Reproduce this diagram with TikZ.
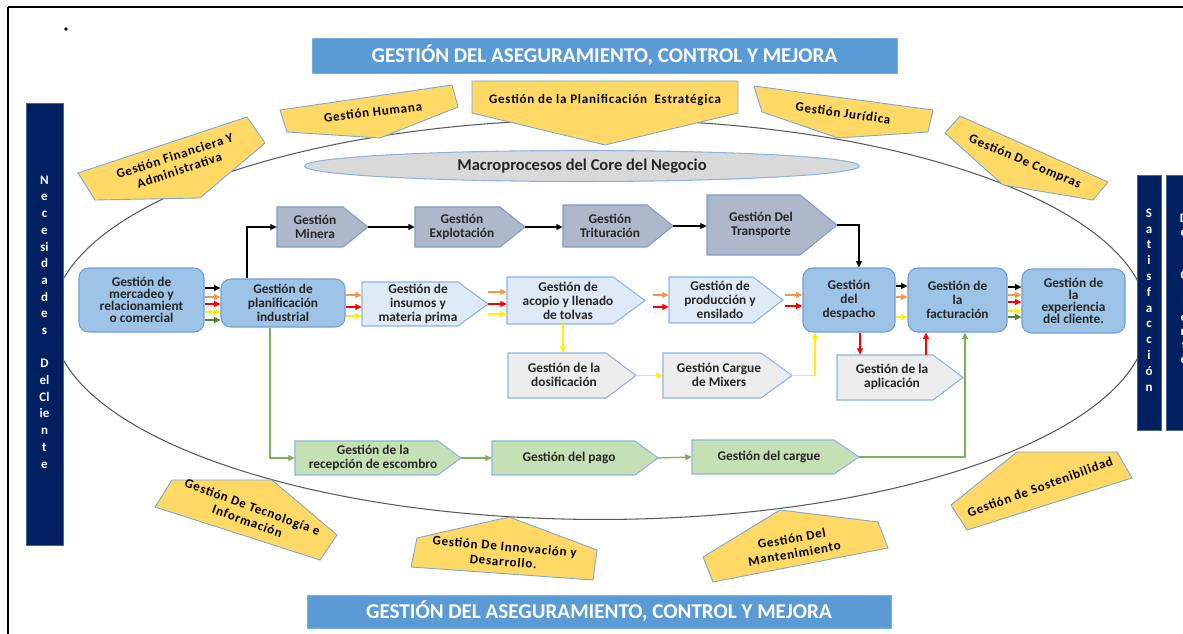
\documentclass[tikz,border=0pt]{standalone}
\usepackage{fontspec}
\setmainfont{Carlito}
\newfontfamily\goldfamily[LetterSpace=6]{Carlito}
\usetikzlibrary{arrows.meta,shapes.geometric,fit}

\definecolor{bannerblue}{HTML}{5B9BD5}
\definecolor{navy}{HTML}{002060}
\definecolor{boxblue}{HTML}{9DC3E6}
\definecolor{boxedge}{HTML}{6F9ED6}
\definecolor{slate}{HTML}{ADB9CA}
\definecolor{slateedge}{HTML}{7F9CC4}
\definecolor{pale}{HTML}{DEEBF7}
\definecolor{paleedge}{HTML}{8DB3E2}
\definecolor{mist}{HTML}{EDEDED}
\definecolor{sage}{HTML}{C5E0B4}
\definecolor{gold}{HTML}{FFD966}
\definecolor{goldedge}{HTML}{7AA7D6}
\definecolor{coregrey}{HTML}{D9D9D9}
\definecolor{ink}{HTML}{262626}
\definecolor{orng}{HTML}{F79646}
\definecolor{leaf}{HTML}{548235}
\definecolor{vine}{HTML}{7DAF5A}
\definecolor{orbitline}{HTML}{595959}

\newcommand\boxfnt{\fontsize{7.6}{8}\selectfont\bfseries}
\newcommand\tightfnt{\fontsize{7.6}{6.9}\selectfont\bfseries}
\newcommand\goldfnt{\goldfamily\fontsize{7.4}{8.6}\selectfont\bfseries}
\newcommand\bannerfnt{\fontsize{12}{14}\selectfont\bfseries}
\newcommand\corefnt{\fontsize{9.4}{11}\selectfont\bfseries}

% pentagon process box: style, name, left x, bend x, tip x, top y, bottom y, text centre, text
\newcommand\chev[9]{%
  \path[#1] (#3,#6) -- (#4,#6) -- (#5,{(#6+#7)/2}) -- (#4,#7) -- (#3,#7) -- cycle;
  \node[fit={(#3,#6)(#5,#7)}, inner sep=0pt] (#2) {};
  \node[boxtext] (#2-t) at (#8) {#9};
}

\begin{document}
\begin{tikzpicture}[x=0.02cm, y=-0.02cm,
  bannerbox/.style={fill=bannerblue, draw=bannerblue!80!white, line width=0.4pt},
  navybar/.style={fill=navy, draw=navy!70!white, line width=0.4pt},
  bartext/.style={text=white, font=\fontsize{7.4}{#1}\selectfont\bfseries, align=center, inner sep=0pt},
  rbox/.style={draw=boxedge, fill=boxblue, rounded corners=5.5pt, line width=0.6pt, inner sep=0pt, align=center, font=\boxfnt, text=ink},
  slatebox/.style={draw=slateedge, fill=slate, line width=0.6pt},
  palebox/.style={draw=paleedge, fill=pale, line width=0.6pt},
  mistbox/.style={draw=paleedge, fill=mist, line width=0.6pt},
  sagebox/.style={draw=paleedge, fill=sage, line width=0.6pt},
  goldshape/.style={draw=goldedge, fill=gold, line width=0.5pt},
  goldtext/.style={font=\goldfnt, text=black, align=center, inner sep=0pt},
  boxtext/.style={font=\boxfnt, text=ink, align=center, inner sep=0pt},
  arr/.style={line width=0.7pt, -{Triangle[length=3.6pt,width=3.4pt]}}
]
\useasboundingbox (0,0) rectangle (1183,634);

% page frame
\draw[line width=1.2pt] (8,7) -- (1183,7);
\draw[line width=1.2pt] (8,7) -- (8,634);
\node[circle, fill=black, inner sep=0.8pt] (dot) at (66,29) {};

% outer orbit of the business core
\node[draw=orbitline, line width=0.6pt, ellipse, minimum width=21.92cm, minimum height=8cm, inner sep=0pt] (orbit) at (600,319.5) {};

% quality banners
\path[bannerbox] (312,38) rectangle (897,73);
\node[text=white, font=\bannerfnt] (topban) at (604.5,55.5) {GESTIÓN DEL ASEGURAMIENTO, CONTROL Y MEJORA};
\path[bannerbox] (307,595) rectangle (891,628);
\node[text=white, font=\bannerfnt] (botban) at (599,611.5) {GESTIÓN DEL ASEGURAMIENTO, CONTROL Y MEJORA};

% support processes
\path[goldshape] (78,173) -- (247,117) -- (265,143) -- (200,198) -- (95,200) -- cycle;
\node[goldtext, rotate=18] (fin) at (177,163) {Gestión Financiera Y\\Administrativa};
\path[goldshape] (280,110) -- (452,85) -- (458,107) -- (380,138) -- (287,132) -- cycle;
\node[goldtext, rotate=7] (hum) at (373,112) {Gestión Humana};
\path[goldshape] (472,81) -- (738,81) -- (738,113) -- (605,145) -- (472,113) -- cycle;
\node[goldtext] (est) at (605,100) {Gestión de la Planificación\ \ Estratégica};
\path[goldshape] (754,86) -- (933,110) -- (928,132) -- (838,138) -- (762,112) -- cycle;
\node[goldtext, rotate=-8] (jur) at (843,113) {Gestión Jurídica};
\path[goldshape] (945,133) -- (960,116) -- (1108,182) -- (1093,200) -- (1003,185) -- cycle;
\node[goldtext, rotate=-23] (com) at (1025,162) {Gestión De Compras};
\path[goldshape] (155,507) -- (172,480) -- (272,480) -- (337,535) -- (320,560) -- cycle;
\node[goldtext, rotate=-20] (tec) at (250,514) {Gestión De Tecnología e\\Información};
\path[goldshape] (411,567) -- (417,538) -- (509,517) -- (597,550) -- (593,580) -- cycle;
\node[goldtext, rotate=-5] (inn) at (504,554) {Gestión De Innovación y\\Desarrollo.};
\path[goldshape] (703,557) -- (780,510) -- (878,522) -- (888,548) -- (713,582) -- cycle;
\node[goldtext, rotate=10] (man) at (793,546) {Gestión Del\\Mantenimiento};
\path[goldshape] (951,505) -- (1017,452) -- (1117,452) -- (1132,478) -- (967,530) -- cycle;
\node[goldtext, rotate=20] (sos) at (1040,487) {Gestión de Sostenibilidad};

% core title
\node[ellipse, draw=paleedge, fill=coregrey, line width=0.6pt, minimum width=11.1cm, minimum height=0.62cm, inner sep=0pt, font=\corefnt, text=ink] (core) at (582,166) {Macroprocesos del Core del Negocio};

% customer bars
\path[navybar] (26,103) rectangle (63,545);
\node[bartext=9.5pt] (nec) at (44.5,322) {N\\e\\c\\e\\si\\d\\a\\d\\e\\s\\[9.5pt]D\\el\\Cl\\ie\\n\\t\\e};
\path[navybar] (1137,175) rectangle (1161,430);
\node[bartext=9pt] (sat) at (1149,300) {S\\a\\t\\i\\s\\f\\a\\c\\c\\i\\ó\\n};
\path[navybar] (1166,175) rectangle (1205,430);
\node[bartext=8pt] (delc) at (1184,289) {D\\e\\l\\[8pt]C\\l\\i\\e\\n\\t\\e};

% main value chain
\node[rbox, font=\tightfnt, minimum width=2.5cm, minimum height=1.28cm] (mer) at (141.5,300) {Gestión de\\mercadeo y\\relacionamient\\o comercial};
\node[rbox, minimum width=2.48cm, minimum height=0.96cm] (pla) at (283,303) {Gestión de\\planificación\\industrial};
\node[rbox, minimum width=1.84cm, minimum height=1.28cm] (des) at (849,300) {Gestión\\del\\despacho};
\node[rbox, minimum width=1.98cm, minimum height=1.28cm] (fac) at (957.5,300) {Gestión de\\la\\facturación};
\node[rbox, font=\tightfnt, minimum width=2.06cm, minimum height=1.28cm] (exp) at (1073.5,301) {Gestión de\\la\\experiencia\\del cliente.};

% mining line
\chev{slatebox}{min}{277}{343}{368}{207}{247}{315,227}{Gestión\\Minera}
\chev{slatebox}{expl}{415}{500}{525}{207}{247}{462,227}{Gestión\\Explotación}
\chev{slatebox}{tri}{563}{647}{673}{205}{247}{610,226}{Gestión\\Trituración}
\chev{slatebox}{tra}{707}{800}{837}{195}{255}{761,225}{Gestión Del\\Transporte}

% production line
\chev{palebox}{ins}{362}{458}{488}{282}{326}{418,304}{Gestión de\\insumos y\\materia prima}
\chev{palebox}{aco}{507}{613}{645}{277}{324}{568,301}{Gestión de\\acopio y llenado\\de tolvas}
\chev{palebox}{pro}{669}{753}{783}{277}{323}{720,300}{Gestión de\\producción y\\ensilado}

% concrete line
\chev{mistbox}{dos}{508}{606}{636}{353}{398}{564,375}{Gestión de la\\dosificación}
\chev{mistbox}{mix}{663}{761}{792}{353}{398}{719,375}{Gestión Cargue\\de Mixers}
\chev{mistbox}{apl}{837}{933}{963}{355}{400}{892,377}{Gestión de la\\aplicación}

% debris line
\chev{sagebox}{rec}{295}{438}{461}{441}{475}{373,458}{Gestión de la\\recepción de escombro}
\chev{sagebox}{pag}{492}{635}{658}{441}{475}{569,458}{Gestión del pago}
\chev{sagebox}{car}{692}{834}{859}{440}{474}{769,457}{Gestión del cargue}

% mercadeo -> planificacion bundle
\draw[arr, black]  (mer.east |- 0,288) -- (pla.west |- 0,288);
\draw[arr, orng]   (mer.east |- 0,297) -- (pla.west |- 0,297);
\draw[arr, red]    (mer.east |- 0,304) -- (pla.west |- 0,304);
\draw[arr, yellow] (mer.east |- 0,312) -- (pla.west |- 0,312);
\draw[arr, leaf]   (mer.east |- 0,320) -- (pla.west |- 0,320);

% mining connectors
\draw[arr, black] (pla.north -| 247,0) |- (min.west);
\draw[arr, black] (min.east) -- (expl.west);
\draw[arr, black] (expl.east) -- (tri.west |- expl.east);
\draw[arr, black] (tri.east) -- (tra.west |- tri.east);
\draw[arr, black] (tra.east) -| (des.north -| 859,0);

% production connectors
\draw[arr, orng]   (pla.east |- 0,295) -- (ins.west |- 0,295);
\draw[arr, red]    (pla.east |- 0,307) -- (ins.west |- 0,307);
\draw[arr, yellow] (pla.east |- 0,316) -- (ins.west |- 0,316);
\draw[arr, orng]   (ins.east |- 0,292) -- (aco.west |- 0,292);
\draw[arr, red]    (ins.east |- 0,304) -- (aco.west |- 0,304);
\draw[arr, yellow] (ins.east |- 0,314) -- (aco.west |- 0,314);
\draw[arr, orng]   (aco.east |- 0,295) ++(8,0) -- (pro.west |- 0,295);
\draw[arr, red]    (aco.east |- 0,307) ++(8,0) -- (pro.west |- 0,307);
\draw[arr, orng]   (pro.east |- 0,295) ++(2,0) -- (des.west |- 0,295);
\draw[arr, red]    (pro.east |- 0,306) ++(2,0) -- (des.west |- 0,306);

% concrete connectors
\draw[arr, yellow] (aco.south -| 563,0) -- (dos.north -| 563,0);
\draw[arr, yellow] (dos.east) -- (mix.west |- dos.east);
\draw[arr, yellow] (mix.east) -| (des.south -| 815,0);
\draw[arr, red] (des.south -| 860,0) -- (apl.north -| 860,0);
\draw[arr, red] (apl.north -| 926,0) -- (fac.south -| 926,0);

% despacho -> facturacion -> experiencia
\draw[arr, black]  (des.east |- 0,286) -- (fac.west |- 0,286);
\draw[arr, orng]   (des.east |- 0,297) -- (fac.west |- 0,297);
\draw[arr, yellow] (des.east |- 0,317) -- (fac.west |- 0,317);
\draw[arr, black]  (fac.east |- 0,287) -- (exp.west |- 0,287);
\draw[arr, orng]   (fac.east |- 0,295) -- (exp.west |- 0,295);
\draw[arr, red]    (fac.east |- 0,302) -- (exp.west |- 0,302);
\draw[arr, yellow] (fac.east |- 0,311) -- (exp.west |- 0,311);
\draw[arr, leaf]   (fac.east |- 0,317) -- (exp.west |- 0,317);

% debris connectors
\draw[arr, vine] (pla.south -| 270,0) |- (rec.west);
\draw[arr, vine] (rec.east) -- (pag.west);
\draw[arr, vine] (pag.east) -- (car.west);
\draw[arr, vine] (car.east) -| (fac.south -| 965,0);

\end{tikzpicture}
\end{document}
